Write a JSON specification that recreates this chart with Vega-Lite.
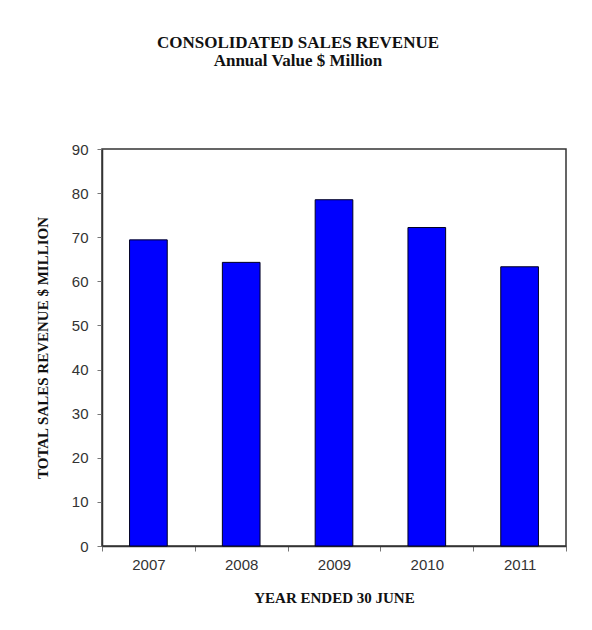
{
  "$schema": "https://vega.github.io/schema/vega-lite/v6.json",
  "autosize": {"type": "none"},
  "padding": {"left": 102, "top": 149, "right": 26, "bottom": 84},
  "width": 464,
  "height": 397,
  "background": "white",
  "title": {
    "text": ["CONSOLIDATED SALES REVENUE", "Annual Value $ Million"],
    "font": "Liberation Serif",
    "fontSize": 17,
    "fontWeight": "bold",
    "color": "#111111",
    "lineHeight": 18.5,
    "anchor": "middle",
    "dx": -36,
    "offset": 72
  },
  "data": {
    "values": [
      {"year": "2007", "revenue": 69.4},
      {"year": "2008", "revenue": 64.3},
      {"year": "2009", "revenue": 78.5},
      {"year": "2010", "revenue": 72.2},
      {"year": "2011", "revenue": 63.3}
    ]
  },
  "mark": {"type": "bar", "color": "#0000FF", "stroke": "#000022", "strokeWidth": 1, "width": {"band": 0.406}},
  "encoding": {
    "x": {
      "field": "year",
      "type": "ordinal",
      "scale": {"paddingInner": 0, "paddingOuter": 0},
      "axis": {
        "title": "YEAR ENDED 30 JUNE",
        "labelAngle": 0,
        "tickBand": "extent",
        "tickSize": 5,
        "labelPadding": 6,
        "titlePadding": 18
      }
    },
    "y": {
      "field": "revenue",
      "type": "quantitative",
      "scale": {"domain": [0, 90], "nice": false, "zero": true},
      "axis": {
        "title": "TOTAL SALES REVENUE $ MILLION",
        "values": [0, 10, 20, 30, 40, 50, 60, 70, 80, 90],
        "grid": false,
        "tickSize": 5,
        "labelPadding": 9,
        "titlePadding": 21
      }
    }
  },
  "config": {
    "view": {"stroke": "#333333", "strokeWidth": 1.5},
    "axis": {
      "labelFont": "Liberation Sans",
      "labelFontSize": 15,
      "labelColor": "#333333",
      "titleFont": "Liberation Serif",
      "titleFontSize": 15,
      "titleFontWeight": "bold",
      "titleColor": "#111111",
      "domainColor": "#333333",
      "domainWidth": 1.5,
      "tickColor": "#777777",
      "tickWidth": 1
    }
  }
}
